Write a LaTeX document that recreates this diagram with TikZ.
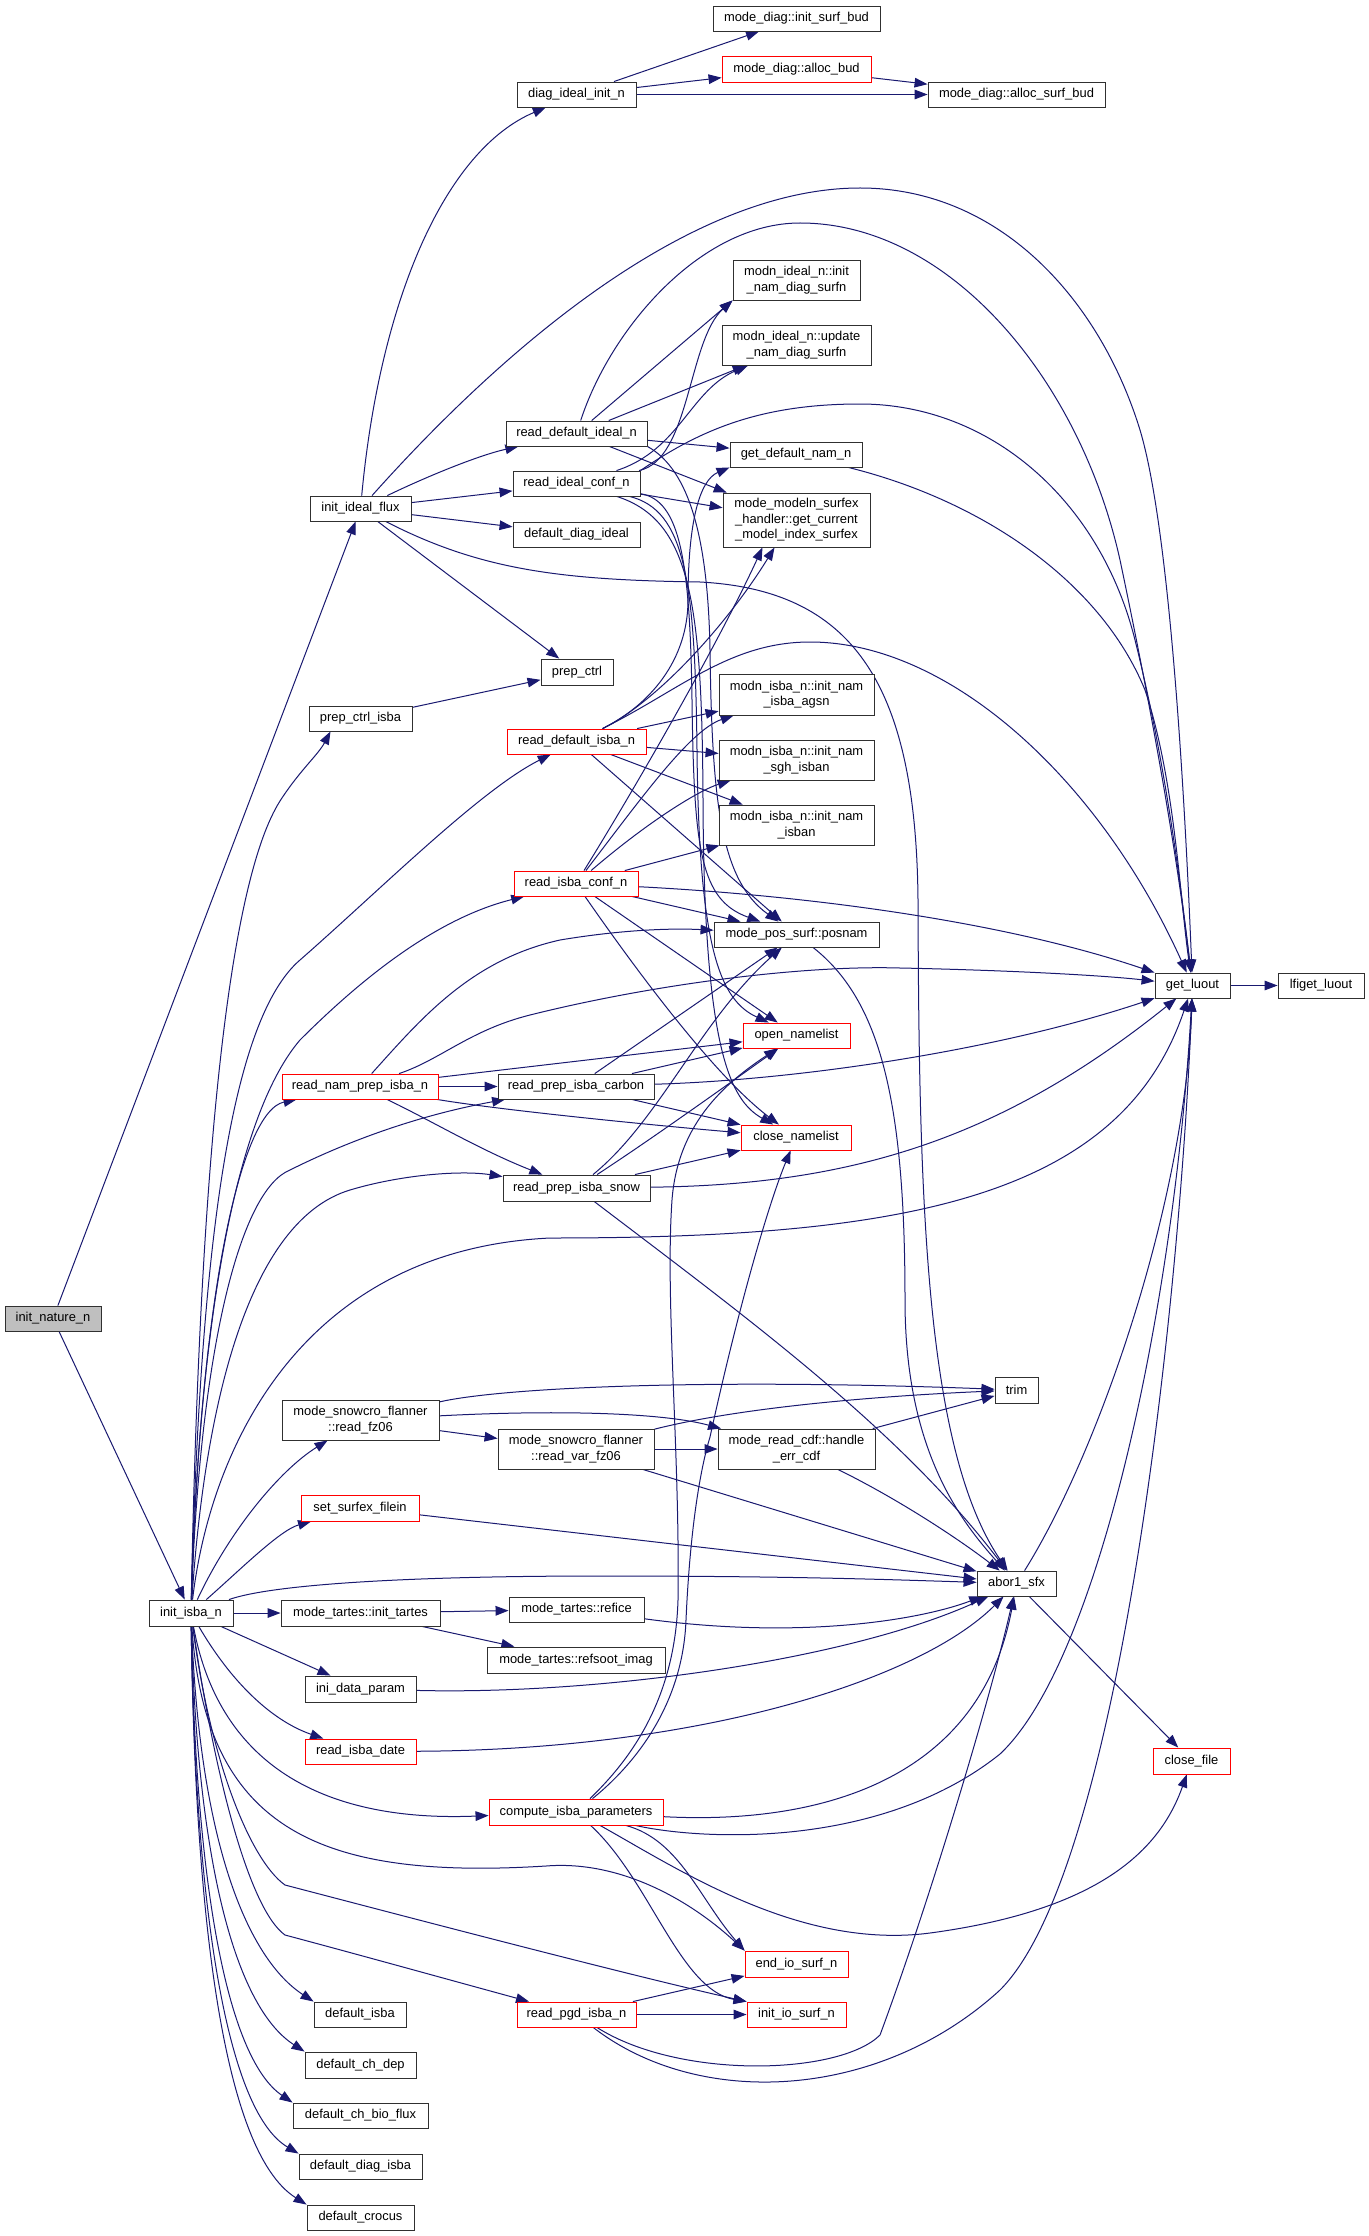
\documentclass[tikz,border=0pt]{standalone}
\usepackage{fontspec}
\setmainfont{Liberation Sans}
\usetikzlibrary{arrows.meta}
\definecolor{edgec}{HTML}{191970}
\definecolor{graybox}{HTML}{BFBFBF}
\definecolor{boxline}{HTML}{303030}
\pgfdeclarelayer{bg}
\pgfsetlayers{bg,main}
\newcommand\mknode[7][]{\node[box,#1,minimum width={(#5-#3)*0.5pt},minimum height={(#6-#4)*0.5pt}] (#2) at ({(#3+#5)/2},{(#4+#6)/2}) {#7};}
\begin{document}
\begin{tikzpicture}[x=0.5pt,y=-0.5pt,
 box/.style={draw=boxline,fill=white,line width=0.45pt,inner sep=0pt,align=center,font=\fontsize{6.45}{7.7}\selectfont},
 redbox/.style={draw=red},
 edg/.style={draw=edgec,line width=0.5pt,-{Triangle[length=6.5pt,width=4.8pt]}}]
\useasboundingbox (0,0) rectangle (1369,2236);
\mknode[fill=graybox]{nat}{5}{1306}{101}{1331}{init\_nature\_n}
\mknode{isba}{149}{1600}{233}{1626}{init\_isba\_n}
\mknode{flux}{310}{496}{411}{521}{init\_ideal\_flux}
\mknode{diag}{517}{82}{636}{107}{diag\_ideal\_init\_n}
\mknode{isb}{713}{6}{880}{31}{mode\_diag::init\_surf\_bud}
\mknode[redbox]{alb}{722}{56}{871}{82}{mode\_diag::alloc\_bud}
\mknode{asb}{928}{82}{1105}{107}{mode\_diag::alloc\_surf\_bud}
\mknode{ind}{733}{260}{860}{300}{modn\_ideal\_n::init\\\_nam\_diag\_surfn}
\mknode{upd}{722}{325}{871}{365}{modn\_ideal\_n::update\\\_nam\_diag\_surfn}
\mknode{rdi}{506}{421}{647}{446}{read\_default\_ideal\_n}
\mknode{gdn}{730}{442}{862}{467}{get\_default\_nam\_n}
\mknode{ric}{513}{471}{640}{496}{read\_ideal\_conf\_n}
\mknode{mmh}{723}{493}{870}{547}{mode\_modeln\_surfex\\\_handler::get\_current\\\_model\_index\_surfex}
\mknode{ddi}{513}{522}{640}{547}{default\_diag\_ideal}
\mknode{pc}{541}{659}{613}{685}{prep\_ctrl}
\mknode{pci}{309}{706}{412}{731}{prep\_ctrl\_isba}
\mknode{agsn}{719}{674}{874}{715}{modn\_isba\_n::init\_nam\\\_isba\_agsn}
\mknode[redbox]{rdis}{507}{729}{646}{754}{read\_default\_isba\_n}
\mknode{sgh}{719}{740}{874}{780}{modn\_isba\_n::init\_nam\\\_sgh\_isban}
\mknode{isban}{719}{805}{874}{845}{modn\_isba\_n::init\_nam\\\_isban}
\mknode[redbox]{ricn}{514}{871}{638}{896}{read\_isba\_conf\_n}
\mknode{pos}{714}{922}{879}{947}{mode\_pos\_surf::posnam}
\mknode{glu}{1155}{973}{1230}{998}{get\_luout}
\mknode{lfi}{1278}{973}{1364}{998}{lfiget\_luout}
\mknode[redbox]{opn}{743}{1023}{850}{1048}{open\_namelist}
\mknode[redbox]{rnp}{282}{1074}{438}{1099}{read\_nam\_prep\_isba\_n}
\mknode{rpc}{498}{1074}{654}{1099}{read\_prep\_isba\_carbon}
\mknode[redbox]{cln}{741}{1125}{851}{1150}{close\_namelist}
\mknode{rps}{503}{1175}{650}{1201}{read\_prep\_isba\_snow}
\mknode{trim}{995}{1377}{1038}{1403}{trim}
\mknode{rfz}{282}{1400}{439}{1440}{mode\_snowcro\_flanner\\::read\_fz06}
\mknode{rvfz}{498}{1429}{654}{1469}{mode\_snowcro\_flanner\\::read\_var\_fz06}
\mknode{hec}{718}{1429}{875}{1469}{mode\_read\_cdf::handle\\\_err\_cdf}
\mknode[redbox]{ssf}{301}{1495}{419}{1521}{set\_surfex\_filein}
\mknode{abo}{977}{1571}{1056}{1596}{abor1\_sfx}
\mknode{itt}{281}{1600}{440}{1626}{mode\_tartes::init\_tartes}
\mknode{rfi}{509}{1597}{644}{1622}{mode\_tartes::refice}
\mknode{rsi}{487}{1647}{665}{1673}{mode\_tartes::refsoot\_imag}
\mknode{idp}{305}{1676}{416}{1702}{ini\_data\_param}
\mknode[redbox]{rid}{305}{1739}{416}{1764}{read\_isba\_date}
\mknode[redbox]{clf}{1153}{1748}{1230}{1774}{close\_file}
\mknode[redbox]{cip}{489}{1799}{663}{1825}{compute\_isba\_parameters}
\mknode[redbox]{eio}{745}{1951}{848}{1977}{end\_io\_surf\_n}
\mknode[redbox]{iio}{747}{2002}{846}{2027}{init\_io\_surf\_n}
\mknode[redbox]{rpg}{517}{2002}{636}{2027}{read\_pgd\_isba\_n}
\mknode{dis}{314}{2002}{406}{2027}{default\_isba}
\mknode{dcd}{305}{2052}{416}{2078}{default\_ch\_dep}
\mknode{dcb}{293}{2103}{428}{2128}{default\_ch\_bio\_flux}
\mknode{ddis}{299}{2154}{422}{2179}{default\_diag\_isba}
\mknode{dcr}{307}{2205}{414}{2230}{default\_crocus}
\begin{pgfonlayer}{bg}
\fill[white] (0,0) rectangle (1369,2236);
% init_nature_n
\draw[edg] (nat) -- (flux);
\draw[edg] (nat) -- (isba);
% init_ideal_flux
\draw[edg] (flux) .. controls (380,300) and (445,150) .. (diag);
\draw[edg] (flux) .. controls (520,330) and (700,188) .. (860,188) .. controls (1000,188) and (1100,300) .. (1140,430) .. controls (1170,530) and (1185,800) .. (glu);
\draw[edg] (flux) .. controls (430,475) and (480,455) .. (rdi);
\draw[edg] (flux) -- (ric);
\draw[edg] (flux) -- (ddi);
\draw[edg] (flux) -- (pc);
\draw[edg] (flux) .. controls (480,570) and (560,580) .. (700,582) .. controls (850,590) and (916,680) .. (918,900) .. controls (919,1200) and (925,1450) .. (abo);
% diag_ideal_init_n
\draw[edg] (diag) -- (isb);
\draw[edg] (diag) -- (alb);
\draw[edg] (diag) -- (asb);
\draw[edg] (alb) -- (asb);
% read_default_ideal_n
\draw[edg] (rdi) -- (ind.south west);
\draw[edg] (rdi) -- (upd);
\draw[edg] (rdi) -- (gdn);
\draw[edg] (rdi) -- (mmh);
\draw[edg] (rdi) .. controls (610,330) and (700,223) .. (800,223) .. controls (950,223) and (1080,380) .. (1120,560) .. controls (1160,750) and (1180,880) .. (glu);
\draw[edg] (rdi.south east) .. controls (690,470) and (708,540) .. (710,650) .. controls (712,800) and (720,880) .. (pos);
% read_ideal_conf_n
\draw[edg] (ric) .. controls (690,460) and (688,340) .. (ind.south west);
\draw[edg] (ric) .. controls (680,450) and (690,390) .. (upd);
\draw[edg] (ric) -- (mmh);
\draw[edg] (ric.north east) .. controls (700,430) and (760,404) .. (860,404) .. controls (990,404) and (1100,500) .. (1135,640) .. controls (1165,760) and (1180,880) .. (glu);
\draw[edg] (ric) .. controls (680,500) and (690,560) .. (692,700) .. controls (694,850) and (700,900) .. (pos);
\draw[edg] (ric) .. controls (685,510) and (695,580) .. (697,750) .. controls (699,950) and (720,1000) .. (opn);
\draw[edg] (ric) .. controls (690,520) and (702,600) .. (703,800) .. controls (704,1050) and (730,1100) .. (cln);
% get_default_nam_n
\draw[edg] (gdn) .. controls (980,500) and (1100,580) .. (1145,690) .. controls (1175,780) and (1180,900) .. (glu);
% prep_ctrl_isba
\draw[edg] (pci) -- (pc);
% read_default_isba_n
\draw[edg] (rdis) -- (agsn);
\draw[edg] (rdis) -- (sgh);
\draw[edg] (rdis) -- (isban);
\draw[edg] (rdis) -- (pos);
\draw[edg] (rdis) .. controls (660,700) and (730,620) .. ([xshift=-11pt]mmh.south);
\draw[edg] (rdis) .. controls (650,705) and (688,660) .. (688,600) .. controls (688,520) and (700,480) .. (gdn.south west);
\draw[edg] (rdis) .. controls (680,690) and (730,642) .. (810,642) .. controls (950,642) and (1100,780) .. (glu);
% read_isba_conf_n
\draw[edg] (ricn) .. controls (640,780) and (720,640) .. ([xshift=-17pt]mmh.south);
\draw[edg] (ricn) .. controls (640,800) and (690,730) .. (agsn);
\draw[edg] (ricn) .. controls (650,820) and (700,790) .. (sgh);
\draw[edg] (ricn) -- (isban);
\draw[edg] (ricn) -- (pos);
\draw[edg] (ricn) -- (opn);
\draw[edg] (ricn) .. controls (650,990) and (720,1080) .. (cln);
\draw[edg] (ricn) .. controls (800,895) and (1000,920) .. (glu);
% read_nam_prep_isba_n
\draw[edg] (rnp) -- (rpc);
\draw[edg] (rnp) .. controls (430,1120) and (480,1150) .. (rps);
\draw[edg] (rnp) -- (opn);
\draw[edg] (rnp) .. controls (500,1110) and (650,1125) .. (cln);
\draw[edg] (rnp) .. controls (420,1020) and (470,960) .. (560,940) .. controls (620,930) and (670,928) .. (pos);
\draw[edg] (rnp) .. controls (440,1060) and (470,1030) .. (530,1015) .. controls (650,985) and (800,965) .. (900,968) .. controls (1000,970) and (1100,975) .. (glu);
% read_prep_isba_carbon
\draw[edg] (rpc) -- (pos);
\draw[edg] (rpc) -- (opn);
\draw[edg] (rpc) -- (cln);
\draw[edg] (rpc) .. controls (800,1080) and (1000,1050) .. (glu);
% read_prep_isba_snow
\draw[edg] (rps) .. controls (660,1120) and (700,1020) .. (pos);
\draw[edg] (rps) .. controls (650,1140) and (720,1090) .. (opn);
\draw[edg] (rps) -- (cln);
\draw[edg] (rps) .. controls (850,1185) and (1000,1140) .. (glu);
\draw[edg] (rps) .. controls (750,1320) and (900,1430) .. (abo);
% posnam
\draw[edg] (pos) .. controls (880,1000) and (905,1100) .. (905,1300) .. controls (905,1450) and (960,1520) .. (abo);
% get_luout
\draw[edg] (glu) -- (lfi);
% init_isba_n
\draw[edg] (isba) .. controls (200,1150) and (230,880) .. (280,801) .. controls (300,770) and (318,755) .. ([xshift=-15pt]pci.south);
\draw[edg] (isba) .. controls (200,1250) and (230,1020) .. (300,960) .. controls (380,890) and (480,790) .. (rdis);
\draw[edg] (isba) .. controls (200,1300) and (240,1110) .. (300,1040) .. controls (380,960) and (450,915) .. (ricn);
\draw[edg] (isba) .. controls (200,1300) and (240,1111) .. (rnp);
\draw[edg] (isba) .. controls (200,1350) and (240,1190) .. (290,1170) .. controls (350,1140) and (420,1115) .. (rpc);
\draw[edg] (isba) .. controls (205,1400) and (250,1220) .. (350,1190) .. controls (400,1175) and (460,1170) .. (rps);
\draw[edg] (isba) .. controls (210,1450) and (300,1250) .. (550,1238) .. controls (900,1238) and (1120,1200) .. (glu);
\draw[edg] (isba) .. controls (230,1530) and (280,1470) .. (rfz);
\draw[edg] (isba) .. controls (240,1570) and (280,1530) .. (ssf);
\draw[edg] (isba) .. controls (270,1585) and (400,1576) .. (600,1576) .. controls (800,1576) and (900,1580) .. (abo);
\draw[edg] (isba) -- (itt);
\draw[edg] (isba) -- (idp);
\draw[edg] (isba) .. controls (230,1680) and (270,1720) .. (rid);
\draw[edg] (isba) .. controls (220,1770) and (330,1822) .. (cip);
\draw[edg] (isba) .. controls (205,1830) and (320,1880) .. (546,1866) .. controls (620,1860) and (690,1900) .. (eio.north west);
\draw[edg] (isba) .. controls (210,1760) and (250,1860) .. (285,1885) .. controls (400,1915) and (620,1973) .. (iio.north west);
\draw[edg] (isba) .. controls (215,1780) and (250,1910) .. (285,1935) .. controls (360,1955) and (450,1980) .. (rpg);
\draw[edg] (isba) .. controls (200,1850) and (250,1960) .. (dis.north west);
\draw[edg] (isba) .. controls (198,1880) and (240,2010) .. (dcd.north west);
\draw[edg] (isba) .. controls (196,1900) and (230,2060) .. (dcb.north west);
\draw[edg] (isba) .. controls (195,1900) and (225,2110) .. (ddis.north west);
\draw[edg] (isba) .. controls (195,1900) and (220,2150) .. (dcr.north west);
% compute_isba_parameters
\draw[edg] (cip) .. controls (630,1760) and (675,1700) .. (678,1600) .. controls (680,1450) and (665,1300) .. (672,1200) .. controls (678,1120) and (730,1080) .. (opn);
\draw[edg] (cip) .. controls (640,1760) and (683,1700) .. (686,1620) .. controls (690,1530) and (700,1470) .. (710,1437) .. controls (740,1300) and (770,1200) .. (cln);
\draw[edg] (cip) .. controls (820,1825) and (980,1780) .. (abo);
\draw[edg] (cip) .. controls (700,1840) and (880,1850) .. (1000,1754) .. controls (1100,1660) and (1175,1300) .. (glu);
\draw[edg] (cip) .. controls (680,1870) and (800,1950) .. (930,1933) .. controls (1100,1910) and (1160,1850) .. (clf);
\draw[edg] (cip) .. controls (680,1840) and (700,1900) .. (eio.north west);
\draw[edg] (cip) .. controls (650,1880) and (680,1990) .. (iio.north west);
% read_pgd_isba_n
\draw[edg] (rpg) -- (eio);
\draw[edg] (rpg) -- (iio);
\draw[edg] (rpg) .. controls (680,2080) and (840,2075) .. (880,2035) .. controls (930,1900) and (990,1700) .. (abo);
\draw[edg] (rpg) .. controls (700,2110) and (880,2100) .. (1000,1990) .. controls (1120,1870) and (1180,1300) .. (glu);
% abor1_sfx
\draw[edg] (abo) .. controls (1100,1450) and (1185,1200) .. (glu);
\draw[edg] (abo) -- (clf);
% snowcro / cdf
\draw[edg] (rfz) .. controls (500,1388) and (700,1378) .. (trim);
\draw[edg] (rfz) .. controls (550,1410) and (660,1412) .. (hec);
\draw[edg] (rfz) -- (rvfz);
\draw[edg] (rvfz) .. controls (750,1405) and (900,1395) .. (trim);
\draw[edg] (rvfz) -- (hec);
\draw[edg] (rvfz) -- (abo);
\draw[edg] (hec) -- (trim);
\draw[edg] (hec) .. controls (900,1500) and (960,1540) .. (abo);
\draw[edg] (ssf) -- (abo);
% tartes
\draw[edg] (itt) -- (rfi);
\draw[edg] (itt) -- (rsi);
\draw[edg] (rfi) .. controls (800,1640) and (920,1620) .. (abo);
\draw[edg] (idp) .. controls (600,1695) and (850,1660) .. (abo);
\draw[edg] (rid) .. controls (700,1750) and (920,1680) .. (abo);
\end{pgfonlayer}
\end{tikzpicture}
\end{document}
